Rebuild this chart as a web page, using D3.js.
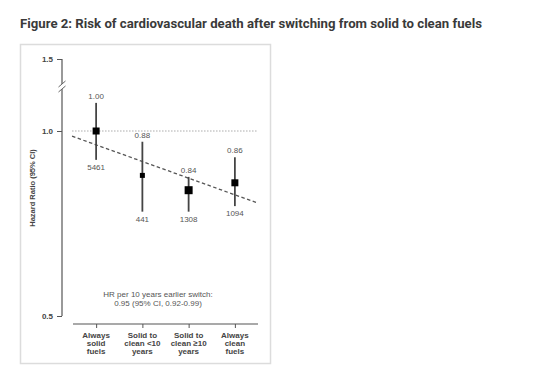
<!DOCTYPE html>
<html>
<head>
<meta charset="utf-8">
<script src="https://cdn.jsdelivr.net/npm/d3@7/dist/d3.min.js"></script>
<style>
  html, body { margin: 0; padding: 0; background: #fff; }
  svg { display: block; }
</style>
</head>
<body>
<svg id="chart" width="558" height="379"></svg>
<script>
// ---- data ----
const categories = ["Always solid fuels", "Solid to clean <10 years", "Solid to clean \u226510 years", "Always clean fuels"];
const categoryLines = [["Always", "solid", "fuels"], ["Solid to", "clean <10", "years"], ["Solid to", "clean \u226510", "years"], ["Always", "clean", "fuels"]];
const hr = [1.00, 0.88, 0.84, 0.86];
const hrLabels = ["1.00", "0.88", "0.84", "0.86"];
const ciLow = [0.922, 0.782, 0.782, 0.797];
const ciHigh = [1.076, 0.971, 0.876, 0.929];
const counts = ["5461", "441", "1308", "1094"];
const markerSize = [7, 5, 8, 7];
const trendValues = [0.986, 0.805]; // fitted trend at left/right ends
const yTicks = [0.5, 1.0, 1.5];
const annotation = ["HR per 10 years earlier switch:", "0.95 (95% CI, 0.92-0.99)"];
const title = "Figure 2: Risk of cardiovascular death after switching from solid to clean fuels";

const svg = d3.select("#chart");

// title
svg.append("text")
  .attr("x", 20).attr("y", 28)
  .attr("font-family", "Roboto, 'Liberation Sans', sans-serif")
  .attr("font-weight", "bold")
  .attr("font-size", 12.5)
  .attr("fill", "#3a3a3a")
  .attr("textLength", 462)
  .attr("lengthAdjust", "spacingAndGlyphs")
  .text(title);

// frame
svg.append("rect")
  .attr("x", 20.5).attr("y", 44.5).attr("width", 250).attr("height", 319)
  .attr("fill", "none").attr("stroke", "#dcdcdc").attr("stroke-width", 1.5);

// scales
const y = d3.scaleLinear().domain([0.5, 1.0, 1.1, 1.5]).range([316, 131, 94, 59]);
const xIdx = d3.scaleLinear().domain([0, 3]).range([96.1, 234.9]);
const xPoint = d3.scalePoint().domain(categories).range([73, 258]).padding(0.5);

const font = "'Liberation Sans', Arial, sans-serif";

// y axis
const axisX = 62;
const yAxis = d3.axisLeft(y).tickValues(yTicks).tickFormat(d3.format(".1f")).tickSize(5).tickPadding(4);
const gy = svg.append("g").attr("transform", `translate(${axisX},0)`).call(yAxis);
gy.select(".domain").remove();
gy.selectAll(".tick line").attr("stroke", "#555").attr("stroke-width", 1);
gy.selectAll(".tick text")
  .attr("font-family", font).attr("font-weight", "bold").attr("font-size", 8).attr("fill", "#444");
// axis line with break
const breakTop = 84, breakBot = 89;
svg.append("line").attr("x1", axisX).attr("x2", axisX).attr("y1", y(1.5)).attr("y2", breakTop)
  .attr("stroke", "#555").attr("stroke-width", 1.2);
svg.append("line").attr("x1", axisX).attr("x2", axisX).attr("y1", breakBot).attr("y2", y(0.5))
  .attr("stroke", "#555").attr("stroke-width", 1.2);
[breakTop, breakBot].forEach(yy => {
  svg.append("line").attr("x1", axisX - 3.5).attr("x2", axisX + 3.5).attr("y1", yy + 3).attr("y2", yy - 3)
    .attr("stroke", "#666").attr("stroke-width", 1);
});

// y axis title
svg.append("text")
  .attr("transform", "translate(35,188) rotate(-90)")
  .attr("text-anchor", "middle")
  .attr("font-family", font).attr("font-weight", "bold").attr("font-size", 7.5)
  .attr("fill", "#444")
  .text("Hazard Ratio (95% CI)");

// reference line at 1.0 (dotted)
svg.append("line")
  .attr("x1", xIdx(-0.52)).attr("x2", xIdx(3.5))
  .attr("y1", y(1.0)).attr("y2", y(1.0))
  .attr("stroke", "#aaa").attr("stroke-width", 1).attr("stroke-dasharray", "1.5,1.5");

// trend line (dashed)
svg.append("line")
  .attr("x1", xIdx(-0.52)).attr("x2", xIdx(3.5))
  .attr("y1", y(trendValues[0])).attr("y2", y(trendValues[1]))
  .attr("stroke", "#555").attr("stroke-width", 1.3).attr("stroke-dasharray", "3.5,2.5");

// CI lines
const pts = categories.map((c, i) => ({ c, i, hr: hr[i], lo: ciLow[i], hi: ciHigh[i], lab: hrLabels[i], n: counts[i], s: markerSize[i] }));
svg.selectAll(".ci").data(pts).join("line")
  .attr("x1", d => xPoint(d.c)).attr("x2", d => xPoint(d.c))
  .attr("y1", d => y(d.hi)).attr("y2", d => y(d.lo))
  .attr("stroke", "#444").attr("stroke-width", 1.8);

// squares
svg.selectAll(".sq").data(pts).join("rect")
  .attr("x", d => xPoint(d.c) - d.s / 2).attr("y", d => y(d.hr) - d.s / 2)
  .attr("width", d => d.s).attr("height", d => d.s)
  .attr("fill", "#000");

// HR labels
svg.selectAll(".hrl").data(pts).join("text")
  .attr("x", d => xPoint(d.c)).attr("y", d => y(d.hi) - 4)
  .attr("text-anchor", "middle")
  .attr("font-family", font).attr("font-size", 8).attr("fill", "#555")
  .text(d => d.lab);

// counts
svg.selectAll(".nl").data(pts).join("text")
  .attr("x", d => xPoint(d.c)).attr("y", d => y(d.lo) + 10)
  .attr("text-anchor", "middle")
  .attr("font-family", font).attr("font-size", 8).attr("fill", "#555")
  .text(d => d.n);

// annotation
svg.selectAll(".ann").data(annotation).join("text")
  .attr("x", 158).attr("y", (d, i) => 297 + i * 9)
  .attr("text-anchor", "middle")
  .attr("font-family", font).attr("font-size", 8).attr("fill", "#555")
  .text(d => d);

// x axis
const xAxis = d3.axisBottom(xPoint).tickSize(4).tickFormat("");
const gx = svg.append("g").attr("transform", "translate(0,324)").call(xAxis);
gx.select(".domain").attr("stroke", "#555").attr("stroke-width", 1.2).attr("d", "M73,0H258");
gx.selectAll(".tick line").attr("stroke", "#555");

// x labels
categories.forEach((c, i) => {
  svg.append("text")
    .attr("x", xPoint(c)).attr("text-anchor", "middle")
    .attr("font-family", font).attr("font-weight", "bold").attr("font-size", 8).attr("fill", "#444")
    .selectAll("tspan").data(categoryLines[i]).join("tspan")
    .attr("x", xPoint(c)).attr("y", (d, j) => 338 + j * 8)
    .text(d => d);
});
</script>
</body>
</html>
